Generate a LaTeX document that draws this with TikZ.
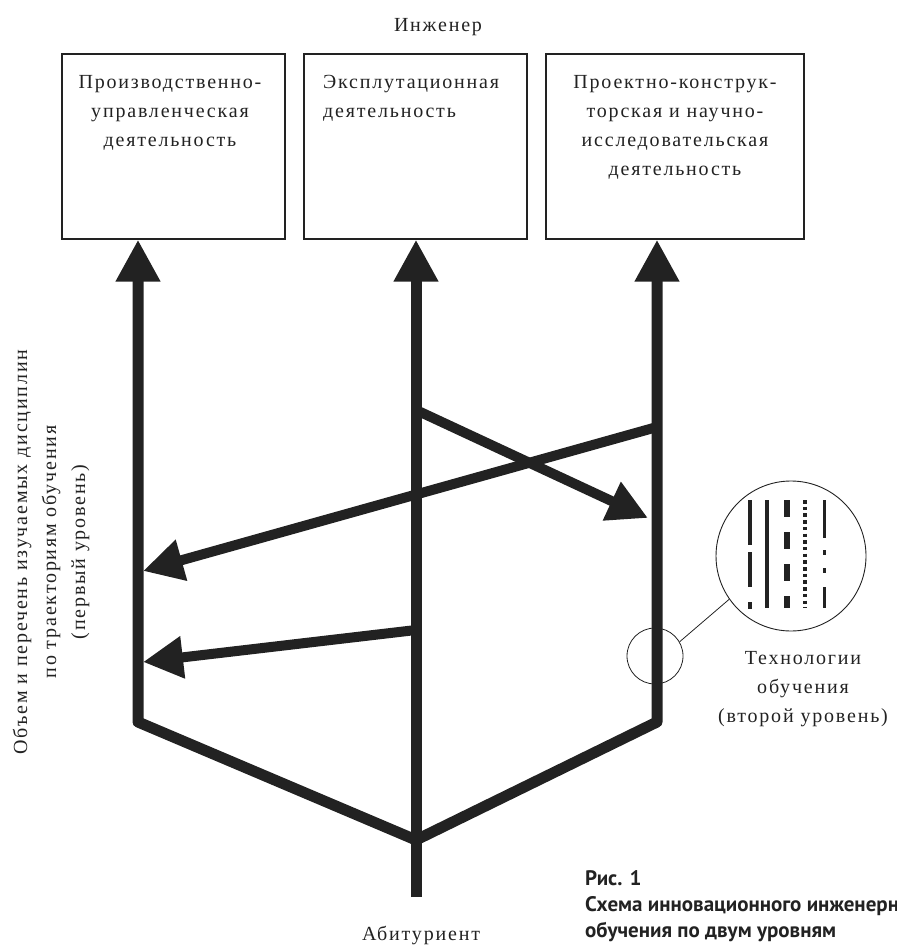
\documentclass[tikz,border=0pt]{standalone}
\usepackage{fontspec}
\setmainfont{Liberation Serif}[LetterSpace=9]
\newfontfamily\capfont{PT Sans}
\usetikzlibrary{arrows.meta,calc}
\definecolor{ink}{HTML}{222222}
\begin{document}
\begin{tikzpicture}[x=1pt,y=-1pt,
  txt/.style={font=\fontsize{20}{29}\selectfont, text=ink, inner sep=0pt, align=center},
  boxstyle/.style={draw=ink, line width=1.3pt, inner sep=0pt, minimum height=185pt},
  thickline/.style={draw=ink, line width=11pt, line join=round},
  bigtip/.style={-{Triangle[length=42pt,width=42pt]}},
  midtip/.style={-{Triangle[length=40pt,width=40pt]}},
  thinline/.style={draw=ink, line width=0.8pt},
]
\useasboundingbox (0,0) rectangle (896,949);
\clip (0,0) rectangle (896,949);

% boxes
\node[boxstyle, minimum width=223pt] (b1) at (173.5,146.5) {};
\node[boxstyle, minimum width=223pt] (b2) at (415.5,146.5) {};
\node[boxstyle, minimum width=258pt] (b3) at (675,146.5) {};

% texts
\node[txt] (eng) at (438,27) {Инженер};
\node[txt] (t1) at (170,113) {Производственно-\\управленческая\\деятельность};
\node[txt, align=left, anchor=west] (t2) at (323,98) {Эксплутационная\\деятельность};
\node[txt] (t3) at (675,127) {Проектно-конструк-\\торская и научно-\\исследовательская\\деятельность};
\node[txt, rotate=90] (lt) at (51,552) {Объем и перечень изучаемых дисциплин\\по траекториям обучения\\(первый уровень)};
\node[txt] (tech) at (803,689) {Технологии\\обучения\\(второй уровень)};
\node[txt] (abit) at (421,935) {Абитуриент};
\node[font=\capfont\bfseries\fontsize{21}{26}\selectfont, text=ink, anchor=north west, align=left, inner sep=0pt] (cap) at (585,870) {Рис. 1\\Схема инновационного инженерного\\обучения по двум уровням};

% key points
\coordinate (Lc) at (138,722);
\coordinate (Rc) at (657,722);
\coordinate (M) at (416,840);
\coordinate (Mb) at (416,897);

% main trajectories
\draw[thickline, {Triangle[length=42pt,width=42pt]}-] (b1.south -| Lc) -- (Lc) -- (M);
\draw[thickline, bigtip] (Mb) -- (b2.south -| M);
\draw[thickline, bigtip] (M) -- (Rc) -- (b3.south -| Rc);

% cross arrows
\coordinate (d1s) at (416,410);
\coordinate (d1e) at (648,518);
\coordinate (d2s) at (657,427);
\coordinate (d2e) at (143,571);
\coordinate (d3s) at (416,630);
\coordinate (d3e) at (143,662);
\draw[thickline, line width=10pt, midtip] (d1s) -- (d1e);
\draw[thickline, line width=10pt, midtip] (d2s) -- (d2e);
\draw[thickline, line width=10pt, midtip] (d3s) -- (d3e);

% magnifier
\node[draw=ink, circle, minimum size=56pt, line width=0.8pt, inner sep=0pt] (sc) at (655,656) {};
\node[draw=ink, circle, minimum size=150pt, line width=0.9pt, inner sep=0pt] (bc) at (791,556) {};
\draw[thinline] (sc.30) -- (bc.215);

% line types inside magnifier
\draw[ink, line width=4.5pt] (750,500) -- (750,545) (750,552) -- (750,587) (750,602) -- (750,609);
\draw[ink, line width=4pt] (767,500) -- (767,608);
\draw[ink, line width=5.5pt, dash pattern=on 17pt off 15pt] (787,500) -- (787,608);
\draw[ink, line width=4pt, dash pattern=on 3.5pt off 3.2pt] (805,500) -- (805,608);
\draw[ink, line width=3pt] (824,500) -- (824,538) (824,550) -- (824,555) (824,568) -- (824,573) (824,587) -- (824,608);
\end{tikzpicture}
\end{document}
